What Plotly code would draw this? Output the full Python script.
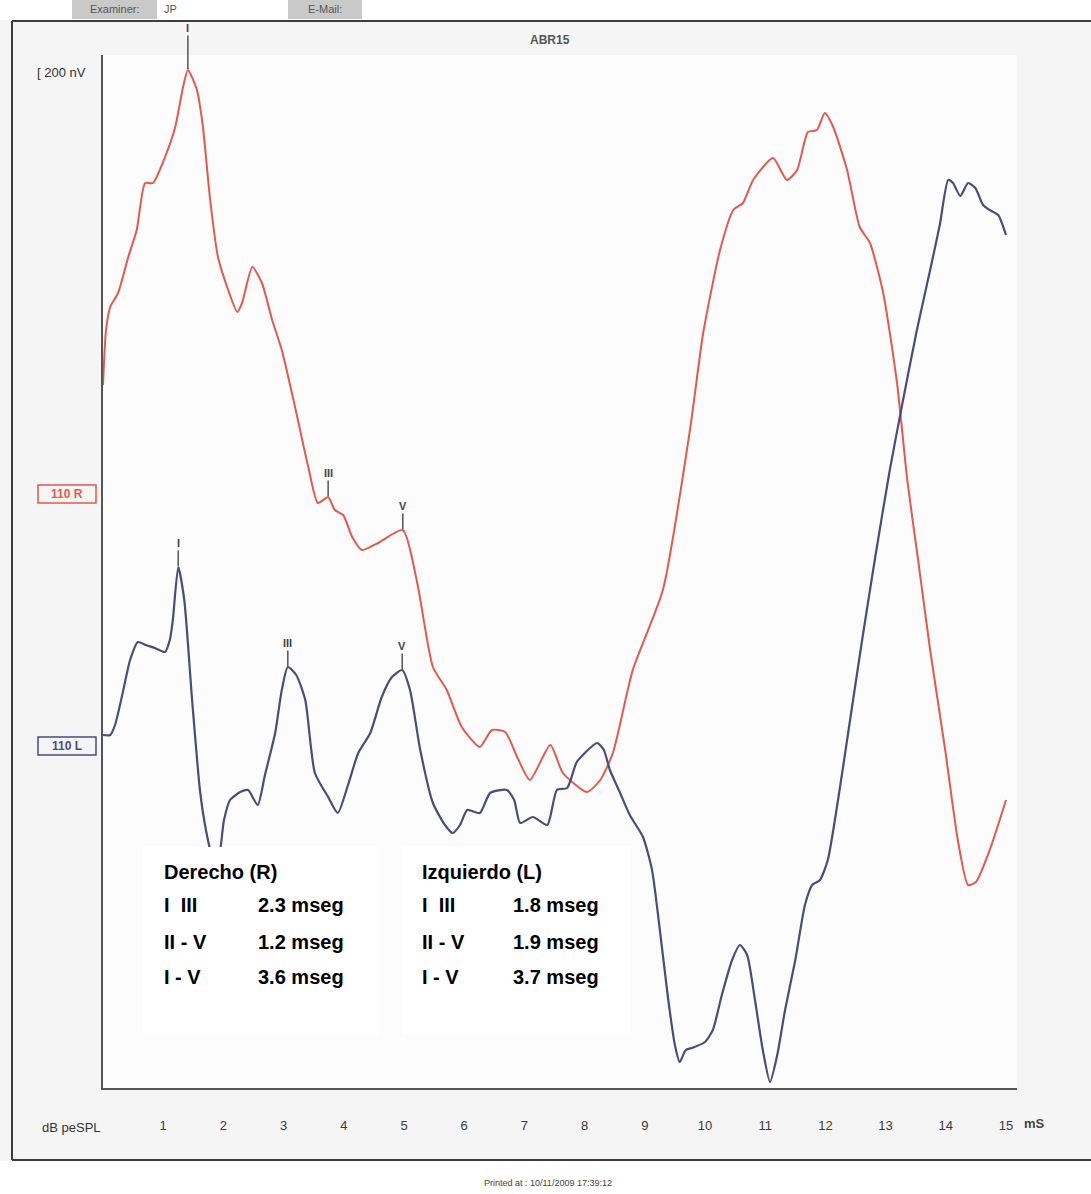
import numpy as np
import plotly.graph_objects as go

# ---------------- data ----------------
# Right ear (110 R) trace: latency (ms) and amplitude (nV, relative to channel baseline)
red_t = [0.00, 0.05, 0.12, 0.25, 0.42, 0.56, 0.70, 0.83, 1.03, 1.20, 1.33, 1.41, 1.56, 1.66, 1.78, 1.91,
         2.08, 2.23, 2.31, 2.48, 2.64, 2.81, 2.97, 3.19, 3.41, 3.57, 3.74, 3.85, 3.99, 4.14, 4.30, 4.57,
         4.98, 5.22, 5.48, 5.71, 5.96, 6.26, 6.46, 6.68, 6.88, 7.09, 7.43, 7.64, 8.04, 8.26, 8.47, 8.80,
         9.30, 9.75, 9.97, 10.25, 10.47, 10.63, 10.80, 11.13, 11.36, 11.53, 11.71, 11.86, 11.99, 12.13,
         12.36, 12.57, 12.74, 12.96, 13.19, 13.36, 13.54, 13.74, 13.99, 14.20, 14.37, 14.50, 14.73, 15.00]
red_v = [108, 163, 186, 200, 236, 263, 310, 310, 336, 366, 406, 423, 403, 366, 293, 236,
         203, 181, 190, 226, 210, 173, 143, 86, 26, -10, -4, -17, -22, -44, -57, -50,
         -37, -90, -174, -197, -234, -254, -237, -239, -264, -287, -252, -280, -299, -287, -260, -177,
         -97, 63, 160, 243, 283, 290, 313, 335, 313, 323, 361, 363, 380, 366,
         323, 266, 250, 200, 110, 13, -67, -157, -257, -347, -392, -389, -357, -307]

# Left ear (110 L) trace
blue_t = [0.00, 0.12, 0.20, 0.32, 0.45, 0.58, 0.71, 0.86, 1.03, 1.11, 1.16, 1.25, 1.35, 1.48, 1.61, 1.71,
          1.81, 1.91, 2.01, 2.11, 2.28, 2.41, 2.57, 2.69, 2.86, 2.97, 3.07, 3.21, 3.36, 3.52, 3.74, 3.90,
          4.07, 4.24, 4.44, 4.63, 4.80, 4.97, 5.10, 5.27, 5.48, 5.68, 5.81, 5.93, 6.05, 6.26, 6.43, 6.71,
          6.83, 6.93, 7.14, 7.38, 7.54, 7.71, 7.87, 8.09, 8.21, 8.32, 8.42, 8.59, 8.75, 8.97, 9.12, 9.25,
          9.39, 9.50, 9.58, 9.68, 9.78, 10.00, 10.13, 10.28, 10.45, 10.58, 10.70, 10.83, 10.96, 11.08,
          11.20, 11.33, 11.50, 11.66, 11.78, 11.91, 12.04, 12.21, 12.41, 12.61, 12.82, 13.07, 13.29,
          13.52, 13.74, 13.90, 14.04, 14.12, 14.24, 14.37, 14.49, 14.62, 14.73, 14.87, 15.00]
blue_v = [10, 10, 20, 50, 85, 103, 100, 97, 93, 105, 125, 178, 145, 45, -45, -85,
          -110, -115, -75, -55, -47, -45, -60, -30, 12, 55, 78, 70, 45, -28, -52, -68,
          -40, -8, 12, 48, 68, 75, 55, -5, -58, -80, -88, -80, -65, -68, -48, -45,
          -55, -78, -72, -80, -45, -43, -17, -3, 2, -5, -25, -48, -70, -92, -125, -185,
          -255, -300, -317, -305, -303, -297, -285, -250, -215, -200, -210, -255, -305, -337,
          -310, -265, -215, -160, -140, -135, -115, -55, 25, 105, 185, 275, 345,
          415, 475, 520, 565, 562, 549, 562, 557, 540, 535, 530, 510]

# Wave peak labels and latencies (ms)
peak_labels = ["I", "III", "V"]
red_peaks = [1.41, 3.74, 4.98]
blue_peaks = [1.25, 3.07, 4.97]

x_ticks = list(range(1, 16))
x_ticktext = [str(v) for v in x_ticks]

# Interpeak latency table
table_rows = ["I  III", "II - V", "I - V"]
right_ear_vals = ["2.3 mseg", "1.2 mseg", "3.6 mseg"]
left_ear_vals = ["1.8 mseg", "1.9 mseg", "3.7 mseg"]

# ---------------- layout constants ----------------
W, H = 1091, 1194
L, R, T, B = 103, 1017, 55, 1088          # plot area in pixels
PX_PER_MS = 60.2
RED_OFF, BLUE_OFF = 595, 343               # channel baselines
RED_C, BLUE_C = "#e4584e", "#4b4b7c"
FONT = "Liberation Sans, Arial, sans-serif"


def pxx(p):
    return (p - L) / (R - L)


def pxy(p):
    return (B - p) / (B - T)


fig = go.Figure()
red_y = np.array(red_v) + RED_OFF
blue_y = np.array(blue_v) + BLUE_OFF
fig.add_trace(go.Scatter(x=red_t, y=red_y, mode="lines", name="110 R",
                         line=dict(color=RED_C, width=2, shape="spline", smoothing=0.6)))
fig.add_trace(go.Scatter(x=blue_t, y=blue_y, mode="lines", name="110 L",
                         line=dict(color=BLUE_C, width=2.2, shape="spline", smoothing=0.6)))

shapes = []
annots = []


def txt(xp, yp, text, size, color, anchor="center", **kw):
    annots.append(dict(xref="paper", yref="paper", x=pxx(xp), y=pxy(yp), text=text, showarrow=False,
                       xanchor=anchor, yanchor="middle", font=dict(family=FONT, size=size, color=color), **kw))


# outer page frame
shapes.append(dict(type="rect", xref="paper", yref="paper", x0=pxx(0), x1=pxx(W), y0=pxy(1161), y1=pxy(H),
                   fillcolor="white", line=dict(width=0), layer="below"))
shapes.append(dict(type="rect", xref="paper", yref="paper", x0=pxx(0), x1=pxx(W), y0=pxy(20), y1=pxy(0),
                   fillcolor="#ffffff", line=dict(width=0)))
shapes.append(dict(type="line", xref="paper", yref="paper", x0=pxx(12), x1=pxx(W), y0=pxy(21), y1=pxy(21),
                   line=dict(color="#3c3c3c", width=2)))
shapes.append(dict(type="line", xref="paper", yref="paper", x0=pxx(12), x1=pxx(W), y0=pxy(1160), y1=pxy(1160),
                   line=dict(color="#3c3c3c", width=2)))
shapes.append(dict(type="line", xref="paper", yref="paper", x0=pxx(12), x1=pxx(12), y0=pxy(21), y1=pxy(1160),
                   line=dict(color="#3c3c3c", width=2)))
# header boxes
shapes.append(dict(type="rect", xref="paper", yref="paper", x0=pxx(72), x1=pxx(157), y0=pxy(19), y1=pxy(0),
                   fillcolor="#c9c9c9", line=dict(width=0)))
shapes.append(dict(type="rect", xref="paper", yref="paper", x0=pxx(288), x1=pxx(362), y0=pxy(19), y1=pxy(0),
                   fillcolor="#c9c9c9", line=dict(width=0)))
txt(115, 9, "Examiner:", 11, "#555")
txt(170, 9, "JP", 11, "#555")
txt(325, 9, "E-Mail:", 11, "#555")

# channel labels
for lbl, ypix, col in [("110 R", 494, RED_C), ("110 L", 746, BLUE_C)]:
    shapes.append(dict(type="rect", xref="paper", yref="paper", x0=pxx(38), x1=pxx(96),
                       y0=pxy(ypix + 9), y1=pxy(ypix - 9), fillcolor="rgba(0,0,0,0)",
                       line=dict(color=col, width=1.5)))
    txt(67, ypix, "<b>%s</b>" % lbl, 12, col)

# interpeak tables (white boxes over the traces)
for x0, x1 in [(143, 378), (402, 631)]:
    shapes.append(dict(type="rect", xref="paper", yref="paper", x0=pxx(x0), x1=pxx(x1),
                       y0=pxy(1035), y1=pxy(847), fillcolor="white", line=dict(width=0), layer="above"))

row_y = [905, 942, 977]
for title, xl, xv, vals in [("Derecho (R)", 162, 256, right_ear_vals), ("Izquierdo (L)", 420, 511, left_ear_vals)]:
    txt(xl, 872, "<b>%s</b>" % title, 20, "black", anchor="left")
    for ry, lab, val in zip(row_y, table_rows, vals):
        txt(xl, ry, "<b>%s</b>" % lab.replace("  ", "&nbsp;&nbsp;"), 20, "black", anchor="left")
        txt(xv, ry, "<b>%s</b>" % val, 20, "black", anchor="left")

# peak markers
for t_list, tx, ty, first_ay in [(red_peaks, red_t, red_y, -42), (blue_peaks, blue_t, blue_y, -24)]:
    for i, (lab, lat) in enumerate(zip(peak_labels, t_list)):
        yv = float(np.interp(lat, tx, ty))
        annots.append(dict(x=lat, y=yv, xref="x", yref="y", text="<b>%s</b>" % lab, showarrow=True,
                           arrowhead=0, arrowwidth=1.5, arrowcolor="#555", ax=0,
                           ay=first_ay if i == 0 else -24, standoff=1,
                           font=dict(family=FONT, size=11, color="#444")))

# misc texts
txt(550, 40, "<b>ABR15</b>", 12, "#555")
txt(35, 72, "[ 200 nV", 13, "#333", anchor="left")
txt(40, 1127, "dB peSPL", 13, "#333", anchor="left")
txt(1022, 1123, "<b>mS</b>", 13, "#444", anchor="left")
txt(548, 1183, "Printed at : 10/11/2009 17:39:12", 9, "#444")

fig.update_layout(
    width=W, height=H,
    margin=dict(l=L, r=W - R, t=T, b=H - B, pad=0),
    paper_bgcolor="#f5f5f5", plot_bgcolor="#fcfcfc",
    showlegend=False,
    shapes=shapes, annotations=annots,
    xaxis=dict(range=[0, (R - L) / PX_PER_MS], tickvals=x_ticks, ticktext=x_ticktext,
               showgrid=False, zeroline=False, showline=True, linecolor="#555", linewidth=2,
               ticks="", ticklabelstandoff=24,
               tickfont=dict(family=FONT, size=13, color="#3a3a3a")),
    yaxis=dict(range=[0, B - T], showticklabels=False, showgrid=False, zeroline=False,
               showline=True, linecolor="#555", linewidth=2, ticks=""),
)

fig.write_html("out.html", config={"displayModeBar": False},
               post_script="document.body.style.margin='0px';")
